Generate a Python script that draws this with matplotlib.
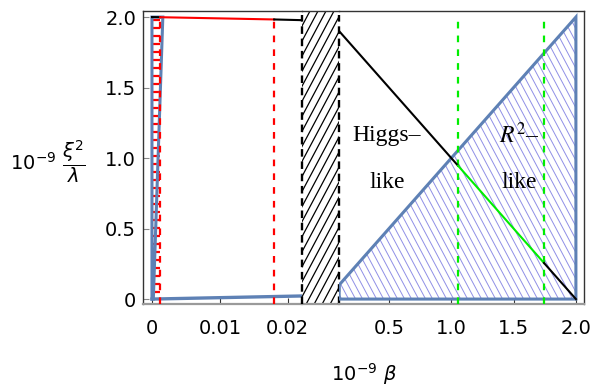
import numpy as np
import matplotlib
matplotlib.use('Agg')
import matplotlib.pyplot as plt
from matplotlib.patches import Polygon
from matplotlib.collections import LineCollection

# ---- data ----
# left panel (very small beta)
beta_top_left = [0.0, 0.0012, 0.018, 0.0221]
xi_top_left = [2.0, 1.999, 1.983, 1.978]
beta_red = [0.0012, 0.018]
beta_sliver = [0.0, 0.0, 0.0016, 0.0002]
xi_sliver = [0.0, 2.0, 2.0, 0.0]
beta_bottom_left = [0.0, 0.0221]
xi_bottom_left = [0.0, 0.022]

# right panel
beta_top_right = [0.1, 1.054, 1.744, 2.0]
xi_top_right = [1.9, 0.946, 0.256, 0.0]
beta_green = [1.054, 1.744]
beta_region = [0.1, 0.1, 2.0, 2.0]
xi_region = [0.0, 0.1, 2.0, 0.0]

yticks = [0, 0.5, 1.0, 1.5, 2.0]
ytick_labels = ['0', '0.5', '1.0', '1.5', '2.0']
xticks_left = [0, 0.01, 0.02]
xticks_left_labels = ['0', '0.01', '0.02']
xticks_right = [0.5, 1.0, 1.5, 2.0]
xticks_right_labels = ['0.5', '1.0', '1.5', '2.0']

BLUE = '#5e81b5'
HATCH_BLUE = '#8f8fe6'
RED = '#ff0000'
GREEN = '#00ee00'
FRAME = '#333333'


def hatch_lines(ax, clip, spacing, angle, color, lw):
    # draw parallel hatch lines (pixel spacing) clipped to a patch
    fig = ax.figure
    bb = ax.get_position()
    w = bb.width * fig.get_figwidth() * fig.dpi
    h = bb.height * fig.get_figheight() * fig.dpi
    segs = []
    if angle == 0:
        for y in np.arange(spacing / 2, h, spacing):
            segs.append([(0, y / h), (1, y / h)])
    else:
        run = h / np.tan(np.radians(angle))
        for x0 in np.arange(-abs(run) - spacing, w + abs(run) + spacing, spacing):
            segs.append([(x0 / w, 0), ((x0 + run) / w, 1)])
    lc = LineCollection(segs, colors=color, linewidths=lw, transform=ax.transAxes)
    ax.add_collection(lc, autolim=False)
    lc.set_clip_path(clip)
    return lc


fig = plt.figure(figsize=(5.92, 3.87), dpi=100)
W, H = 592, 387
bottom_px, top_px = 304, 11
y0 = (H - bottom_px) / H
hgt = (bottom_px - top_px) / H
ax_l = fig.add_axes([143 / W, y0, (302 - 143) / W, hgt])
ax_m = fig.add_axes([302 / W, y0, (339 - 302) / W, hgt])
ax_r = fig.add_axes([339 / W, y0, (584 - 339) / W, hgt])

ylim = (-0.035, 2.043)
for ax in (ax_l, ax_m, ax_r):
    ax.set_ylim(*ylim)
    ax.set_facecolor('none')
    for s in ax.spines.values():
        s.set_color(FRAME)
        s.set_linewidth(1.0)
    ax.spines['bottom'].set_color('#9a9a9a')
    ax.spines['bottom'].set_linewidth(1.6)

ax_l.set_xlim(-0.00132, 0.0221)
ax_r.set_xlim(0.0987, 2.065)
ax_m.set_xlim(0, 1)

ax_l.spines['right'].set_visible(False)
ax_m.spines['left'].set_visible(False)
ax_m.spines['right'].set_visible(False)
ax_r.spines['left'].set_visible(False)

# ---- left panel ----
sliver = Polygon(np.column_stack([beta_sliver, xi_sliver]), closed=True,
                 facecolor='none', edgecolor=BLUE, lw=2.2, zorder=3)
ax_l.add_patch(sliver)
red_box = Polygon([[0, 0], [0, 2.0], [beta_red[0], 2.0], [beta_red[0], 0]],
                  closed=True, facecolor='none', edgecolor='none')
ax_l.add_patch(red_box)
hatch_lines(ax_l, red_box, 8, 0, RED, 1.6)
ax_l.plot(beta_bottom_left, xi_bottom_left, color=BLUE, lw=2.4, zorder=3)
for b in beta_red:
    ax_l.axvline(b, ymin=0, ymax=0.985, color=RED, lw=1.6, dashes=(3.0, 3.2), zorder=4)
ax_l.plot(beta_top_left[:2], xi_top_left[:2], color='black', lw=1.5, zorder=5)
ax_l.plot(beta_top_left[1:3], xi_top_left[1:3], color=RED, lw=1.5, zorder=5)
ax_l.plot(beta_top_left[2:], xi_top_left[2:], color='black', lw=1.5, zorder=5)

# ---- gap between the two scales ----
hatch_lines(ax_m, ax_m.patch, 8, 62, 'black', 0.9)
for xe in (0, 1):
    ax_m.axvline(xe, ymin=0, ymax=0.985, color='black', lw=1.7,
                 dashes=(3.2, 2.0), zorder=6, clip_on=False)
ax_m.set_xticks([])
ax_m.set_yticks([])

# ---- right panel ----
region = Polygon(np.column_stack([beta_region, xi_region]), closed=True,
                 facecolor='none', edgecolor=BLUE, lw=2.2, zorder=3)
ax_r.add_patch(region)
hatch_lines(ax_r, region, 7, 118, HATCH_BLUE, 0.7)
for b in beta_green:
    ax_r.axvline(b, ymin=0, ymax=0.985, color=GREEN, lw=1.6, dashes=(3.0, 3.2), zorder=4)
ax_r.plot(beta_top_right[:2], xi_top_right[:2], color='black', lw=1.5, zorder=5)
ax_r.plot(beta_top_right[1:3], xi_top_right[1:3], color=GREEN, lw=1.5, zorder=5)
ax_r.plot(beta_top_right[2:], xi_top_right[2:], color='black', lw=1.5, zorder=5)

txt = dict(family='Liberation Serif', fontsize=17, ha='center', va='center', zorder=7)
ax_r.text(0.484, 1.163, 'Higgs\u2013', **txt)
ax_r.text(0.484, 0.83, 'like', **txt)
ax_r.text(1.543, 1.163, r'$R^2$' + '\u2013', math_fontfamily='stix', **txt)
ax_r.text(1.543, 0.83, 'like', **txt)

# ---- ticks ----
ax_l.set_yticks(yticks)
ax_l.set_yticklabels(ytick_labels)
ax_l.set_xticks(xticks_left)
ax_l.set_xticklabels(xticks_left_labels)
ax_r.set_yticks([])
ax_r.set_xticks(xticks_right)
ax_r.set_xticklabels(xticks_right_labels)
for ax in (ax_l, ax_r):
    ax.tick_params(axis='x', direction='in', length=4, width=0.8, color='#333333',
                   labelsize=14, pad=11)
ax_l.tick_params(axis='y', direction='in', length=4, width=0.8, color='#888888',
                 labelsize=14, pad=5)

fig.text(10 / W, 1 - 162 / H, r'$10^{-9}\ \dfrac{\xi^2}{\lambda}$', fontsize=14,
         ha='left', va='center')
fig.text(364 / W, 1 - 374 / H, r'$10^{-9}\ \beta$', fontsize=14,
         ha='center', va='center')

fig.savefig('out.png', dpi=100)
